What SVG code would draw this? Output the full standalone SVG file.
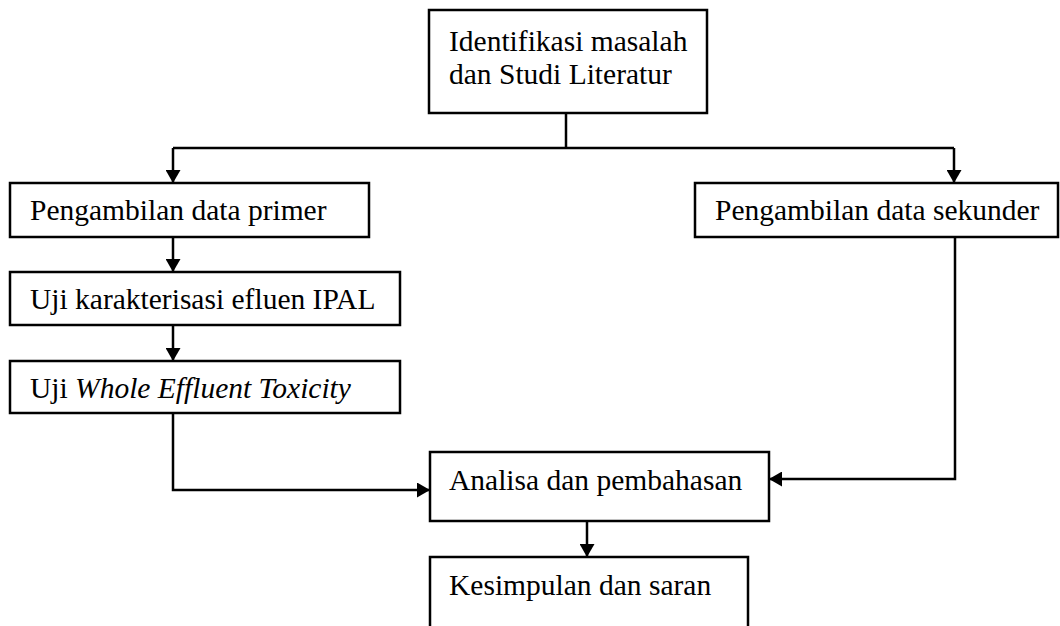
<svg xmlns="http://www.w3.org/2000/svg" width="1060" height="626" viewBox="0 0 1060 626">
<style>
.box{fill:#fff;stroke:#000;stroke-width:2.5}
.t{font-family:"Liberation Serif","Times New Roman",serif;font-size:29.5px;fill:#000}
.c{fill:none;stroke:#000;stroke-width:2.5}
</style>
<defs>
<marker id="ah" viewBox="0 0 13 15" refX="13" refY="7.5" markerWidth="13" markerHeight="15" markerUnits="userSpaceOnUse" orient="auto">
<path d="M0,0 L13,7.5 L0,15 Z" fill="#000"/>
</marker>
</defs>
<rect width="1060" height="626" fill="#fff"/>
<g id="connectors">
<path class="c" d="M566,113 V148"/>
<path class="c" d="M173,148 H954"/>
<path class="c" d="M173,148 V183" marker-end="url(#ah)"/>
<path class="c" d="M954,148 V183" marker-end="url(#ah)"/>
<path class="c" d="M173,237 V272" marker-end="url(#ah)"/>
<path class="c" d="M173,325 V361" marker-end="url(#ah)"/>
<path class="c" d="M173,413 V490 H430" marker-end="url(#ah)"/>
<path class="c" d="M955,237 V479 H769" marker-end="url(#ah)"/>
<path class="c" d="M587,521 V557" marker-end="url(#ah)"/>
</g>
<g id="n1"><rect class="box" x="429" y="10" width="278" height="103"/>
<text class="t" x="449" y="51">Identifikasi masalah</text>
<text class="t" x="449" y="84">dan Studi Literatur</text></g>
<g id="n2"><rect class="box" x="10" y="183" width="359" height="54"/>
<text class="t" x="30" y="220">Pengambilan data primer</text></g>
<g id="n3"><rect class="box" x="695" y="183" width="363" height="54"/>
<text class="t" x="715" y="220">Pengambilan data sekunder</text></g>
<g id="n4"><rect class="box" x="10" y="272" width="390" height="53"/>
<text class="t" x="30" y="309">Uji karakterisasi efluen IPAL</text></g>
<g id="n5"><rect class="box" x="10" y="361" width="390" height="52"/>
<text class="t" x="30" y="398">Uji <tspan font-style="italic">Whole Effluent Toxicity</tspan></text></g>
<g id="n6"><rect class="box" x="430" y="452" width="339" height="69"/>
<text class="t" x="449" y="490">Analisa dan pembahasan</text></g>
<g id="n7"><rect class="box" x="430" y="557" width="318" height="80"/>
<text class="t" x="449" y="595">Kesimpulan dan saran</text></g>
</svg>
